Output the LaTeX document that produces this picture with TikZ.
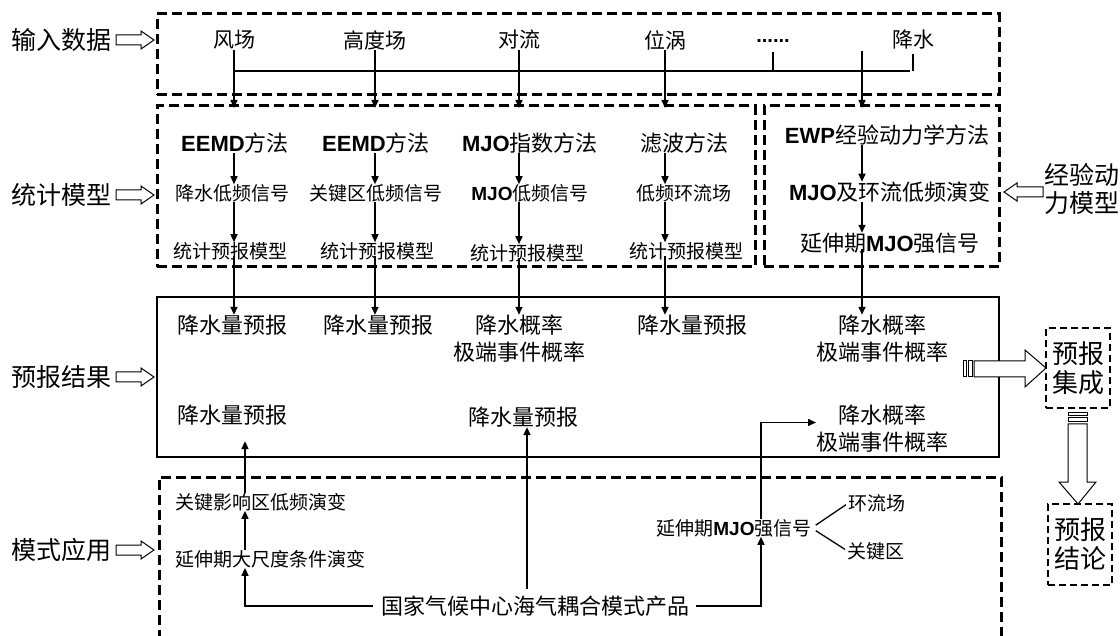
\documentclass[tikz,border=0pt]{standalone}
\usepackage{fontspec}
\setmainfont{Noto Sans CJK SC}
\newfontfamily\latb{Liberation Sans}
\newcommand\EB[1]{{\latb\bfseries #1}}
\usetikzlibrary{arrows.meta}
\newcommand\hollowR[3]{\draw[hollow] (#1,#3-5) -- (#2-13,#3-5) -- (#2-13,#3-9) -- (#2,#3) -- (#2-13,#3+9) -- (#2-13,#3+5) -- (#1,#3+5) -- cycle;}
\newcommand\hollowL[3]{\draw[hollow] (#1,#3-5) -- (#2+13,#3-5) -- (#2+13,#3-9) -- (#2,#3) -- (#2+13,#3+9) -- (#2+13,#3+5) -- (#1,#3+5) -- cycle;}
\begin{document}
\begin{tikzpicture}[x=1pt,y=-1pt,
  every node/.style={inner sep=0pt, outer sep=0pt},
  t21/.style={font=\fontsize{21}{25}\selectfont},
  t22/.style={font=\fontsize{22}{27}\selectfont, align=center},
  t19/.style={font=\fontsize{19}{23}\selectfont},
  t25/.style={font=\fontsize{25}{28}\selectfont, align=center},
  t26/.style={font=\fontsize{26}{29}\selectfont, align=center},
  frame/.style={draw, line width=3pt, dash pattern=on 10pt off 5pt},
  smallframe/.style={draw, line width=2.2pt, dash pattern=on 7pt off 4pt},
  arr/.style={line width=1.5pt, -{Triangle[length=8pt,width=7pt]}},
  ln/.style={line width=1.3pt},
  hollow/.style={draw, line width=1pt, fill=white},
]
\useasboundingbox (0,0) rectangle (1120,636);
\fill[white] (0,0) rectangle (1120,636);

% frames
\node[frame, minimum width=842pt, minimum height=81pt, anchor=north west] (fr1) at (157,14) {};
\node[frame, minimum width=598pt, minimum height=161pt, anchor=north west] (fr2) at (157,106) {};
\node[frame, minimum width=235pt, minimum height=161pt, anchor=north west] (fr3) at (764,106) {};
\node[draw, line width=2.2pt, minimum width=842pt, minimum height=160pt, anchor=north west] (fr4) at (157,297) {};
\draw[frame] (159,640) -- (159,477) -- (1001,477) -- (1001,640);

% left labels
\node[t25] (L1) at (62,40) {输入数据};
\node[t25] (L2) at (62,195) {统计模型};
\node[t25] (L3) at (62,377) {预报结果};
\node[t25] (L4) at (62,550) {模式应用};
\hollowR{116}{154}{40}
\hollowR{116}{154}{195}
\hollowR{116}{154}{377}
\hollowR{116}{154}{550}

% input row
\node[t21] (i1) at (234,40) {风场};
\node[t21] (i2) at (375,40) {高度场};
\node[t21] (i3) at (519,40) {对流};
\node[t21] (i4) at (665,40) {位涡};
\node[font=\latb\bfseries\fontsize{20}{24}\selectfont] (i5) at (773,41) {......};
\node[t21] (i6) at (913,40) {降水};
\coordinate (c5) at (862,51);
\coordinate (hL) at (234,71);
\coordinate (hR) at (910,71);
\coordinate (t5) at (773,52);
\draw[ln] (hL) -- (hR);
\draw[ln] (t5) -- (t5 |- hL);
\draw[ln, shorten <=4pt] (i6.south) -- (i6.south |- hL);

% statistical rows
\node[t22] (a1) at (235,143) {\EB{EEMD}方法};
\node[t22] (a2) at (376,143) {\EB{EEMD}方法};
\node[t22] (a3) at (530,143) {\EB{MJO}指数方法};
\node[t22] (a4) at (684,143) {滤波方法};
\node[t22] (a5) at (887,135) {\EB{EWP}经验动力学方法};

\node[t19] (b1) at (232,193) {降水低频信号};
\node[t19] (b2) at (376,193) {关键区低频信号};
\node[t19] (b3) at (530,193) {\EB{MJO}低频信号};
\node[t19] (b4) at (684,193) {低频环流场};
\node[t22] (b5) at (890,192) {\EB{MJO}及环流低频演变};

\node[t19] (s1) at (230,251) {统计预报模型};
\node[t19] (s2) at (377,251) {统计预报模型};
\node[t19] (s3) at (527,253) {统计预报模型};
\node[t19] (s4) at (686,251) {统计预报模型};
\node[t22] (s5) at (890,243) {延伸期\EB{MJO}强信号};

% results
\node[t22] (r1) at (232,325) {降水量预报};
\node[t22] (r2) at (378,325) {降水量预报};
\node[t22] (r3) at (519,338.5) {降水概率\\极端事件概率};
\node[t22] (r4) at (692,325) {降水量预报};
\node[t22] (r5) at (882,338.5) {降水概率\\极端事件概率};
\node[t22] (r6) at (232,415) {降水量预报};
\node[t22] (r7) at (523,417) {降水量预报};
\node[t22] (r8) at (882,428.5) {降水概率\\极端事件概率};

% column arrows
\foreach \k in {1,2,3,4}{
  \draw[arr, shorten >=-2pt] (i\k.south) -- (i\k |- fr2.north);
  \draw[arr] (a\k.south -| i\k) -- (b\k.north -| i\k);
  \draw[arr] (b\k.south -| i\k) -- (s\k.north -| i\k);
  \draw[arr, shorten <=-4pt] (s\k.south -| i\k) -- (r\k.north -| i\k);
}
\draw[arr, shorten >=-2pt] (c5) -- (c5 |- fr3.north);
\draw[arr] (a5.south -| c5) -- (b5.north -| c5);
\draw[arr] (b5.south -| c5) -- (s5.north -| c5);
\draw[arr, shorten <=-4pt] (s5.south -| c5) -- (r5.north -| c5);

% right label
\node[t25] (Rl) at (1082,189) {经验动\\力模型};
\hollowL{1043}{1004}{192}

% model application
\node[t19] (m1) at (261,502) {关键影响区低频演变};
\node[t19] (m2) at (270,559) {延伸期大尺度条件演变};
\node[t22] (m3) at (535,606) {国家气候中心海气耦合模式产品};
\node[t19] (m4) at (734,528) {延伸期\EB{MJO}强信号};
\node[t19] (m5) at (877,503) {环流场};
\node[t19] (m6) at (876,551) {关键区};
\coordinate (cL) at (245,0);
\coordinate (cM) at (527,0);
\coordinate (cR) at (761,0);
\draw[arr, shorten <=8pt] (m3.west) -| (m2.south -| cL);
\draw[arr] (m2.north -| cL) -- (m1.south -| cL);
\draw[arr, shorten >=16pt] (m1.north -| cL) -- (r6.south -| cL);
\draw[arr, shorten <=7pt] (m3.north -| cM) -- (r7.south -| cM);
\draw[arr, shorten <=7pt] (m3.east) -| (m4.south -| cR);
\draw[arr] (m4.north -| cR) |- ([yshift=6pt]r8.west);
\draw[ln, shorten <=5pt, shorten >=3pt] (m4.east) -- (m5.west);
\draw[ln, shorten <=5pt, shorten >=3pt] (m4.east) -- (m6.west);

% right boxes
\node[smallframe, t26, minimum width=64pt, minimum height=80pt] (J) at (1078,368) {预报\\集成};
\node[smallframe, t26, minimum width=64pt, minimum height=81pt] (K) at (1080,544.5) {预报\\结论};

% striped arrows
\draw[hollow] (963,361) rectangle (966,377);
\draw[hollow] (968,361) rectangle (972,377);
\draw[hollow] (974,361) -- (1025,361) -- (1025,350) -- (J.west) -- (1025,387) -- (1025,377) -- (974,377) -- cycle;
\draw[hollow] (1068,413) rectangle (1087,416);
\draw[hollow] (1068,418) rectangle (1087,422);
\draw[hollow] (1068,424) -- (1068,482) -- (1059,482) -- (K.north -| 1078,0) -- (1096,482) -- (1087,482) -- (1087,424) -- cycle;
\end{tikzpicture}
\end{document}
